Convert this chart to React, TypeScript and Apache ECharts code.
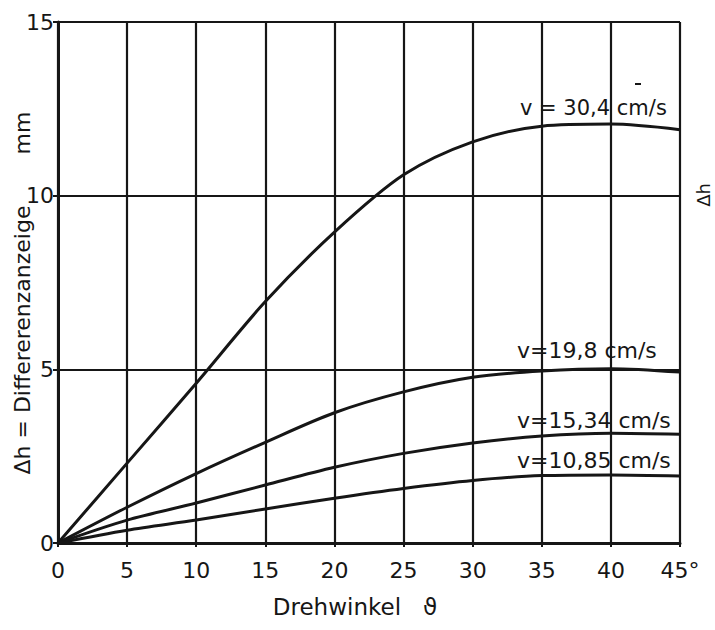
import React, { useEffect, useRef } from "react";
import * as echarts from "echarts";

const angles = [0, 5, 10, 15, 20, 25, 30, 35, 40, 45];
const v304 = [0, 2.3, 4.6, 6.95, 8.95, 10.6, 11.55, 12.0, 12.06, 11.9];
const v198 = [0, 1.03, 2.0, 2.9, 3.75, 4.35, 4.77, 4.95, 5.02, 4.92];
const v1534 = [0, 0.66, 1.15, 1.67, 2.18, 2.58, 2.88, 3.08, 3.16, 3.13];
const v1085 = [0, 0.37, 0.66, 0.98, 1.29, 1.57, 1.8, 1.94, 1.96, 1.93];
const seriesNames = ["v = 30,4 cm/s", "v=19,8 cm/s", "v=15,34 cm/s", "v=10,85 cm/s"];
const seriesValues = [v304, v198, v1534, v1085];

const FONT = "DejaVu Sans";
const INK = "#161616";

export default function App() {
  const ref = useRef<HTMLDivElement>(null);
  useEffect(() => {
    if (!ref.current) return;
    const chart = echarts.init(ref.current, null, { renderer: "svg" });
    const labelPos = [
      [520, 108, 21],
      [517, 350, 22],
      [517, 420, 22],
      [517, 460, 22],
    ];
    chart.setOption({
      animation: false,
      backgroundColor: "#ffffff",
      grid: { left: 58, right: 35, top: 22, bottom: 87, containLabel: false },
      xAxis: {
        type: "value",
        min: 0,
        max: 45,
        interval: 5,
        axisLine: { show: true, lineStyle: { color: INK, width: 3 } },
        axisTick: { show: true, length: 4, lineStyle: { color: INK, width: 2 } },
        splitLine: { show: true, lineStyle: { color: INK, width: 2.2 } },
        axisLabel: {
          color: INK,
          fontFamily: FONT,
          fontSize: 22,
          margin: 16,
          formatter: (v: number) => (v === 45 ? "45°" : String(v)),
        },
      },
      yAxis: {
        type: "value",
        min: 0,
        max: 15,
        interval: 5,
        axisLine: { show: true, lineStyle: { color: INK, width: 3 } },
        axisTick: { show: true, length: 5, lineStyle: { color: INK, width: 2 } },
        splitLine: { show: true, lineStyle: { color: INK, width: 2.2 } },
        axisLabel: { color: INK, fontFamily: FONT, fontSize: 22, margin: 4 },
      },
      series: seriesValues.map((vals, i) => ({
        name: seriesNames[i],
        type: "line",
        smooth: 0.3,
        showSymbol: false,
        lineStyle: { color: INK, width: 3 },
        data: angles.map((a, j) => [a, vals[j]]),
      })),
      graphic: [
        ...seriesNames.map((n, i) => ({
          type: "text",
          x: labelPos[i][0],
          y: labelPos[i][1],
          style: {
            text: n,
            fill: INK,
            font: `${labelPos[i][2]}px "${FONT}"`,
            textAlign: "left",
            textVerticalAlign: "middle",
          },
        })),
        {
          type: "text",
          x: 355,
          y: 607,
          style: {
            text: "Drehwinkel   ϑ",
            fill: INK,
            font: `23px "${FONT}"`,
            textAlign: "center",
            textVerticalAlign: "middle",
          },
        },
        {
          type: "text",
          x: 22,
          y: 340,
          rotation: Math.PI / 2,
          style: {
            text: "Δh = Differerenzanzeige",
            fill: INK,
            font: `22px "${FONT}"`,
            textAlign: "center",
            textVerticalAlign: "middle",
          },
        },
        {
          type: "text",
          x: 22,
          y: 133,
          rotation: Math.PI / 2,
          style: {
            text: "mm",
            fill: INK,
            font: `22px "${FONT}"`,
            textAlign: "center",
            textVerticalAlign: "middle",
          },
        },
        {
          type: "text",
          x: 703,
          y: 195,
          rotation: Math.PI / 2,
          style: {
            text: "Δh",
            fill: INK,
            font: `18px "${FONT}"`,
            textAlign: "center",
            textVerticalAlign: "middle",
          },
        },
        {
          type: "line",
          shape: { x1: 635, y1: 84, x2: 641, y2: 84 },
          style: { stroke: INK, lineWidth: 2 },
        },
      ],
    });
    return () => chart.dispose();
  }, []);
  return (
    <div
      ref={ref}
      style={{ position: "absolute", left: 0, top: 0, width: 715, height: 630 }}
    />
  );
}
